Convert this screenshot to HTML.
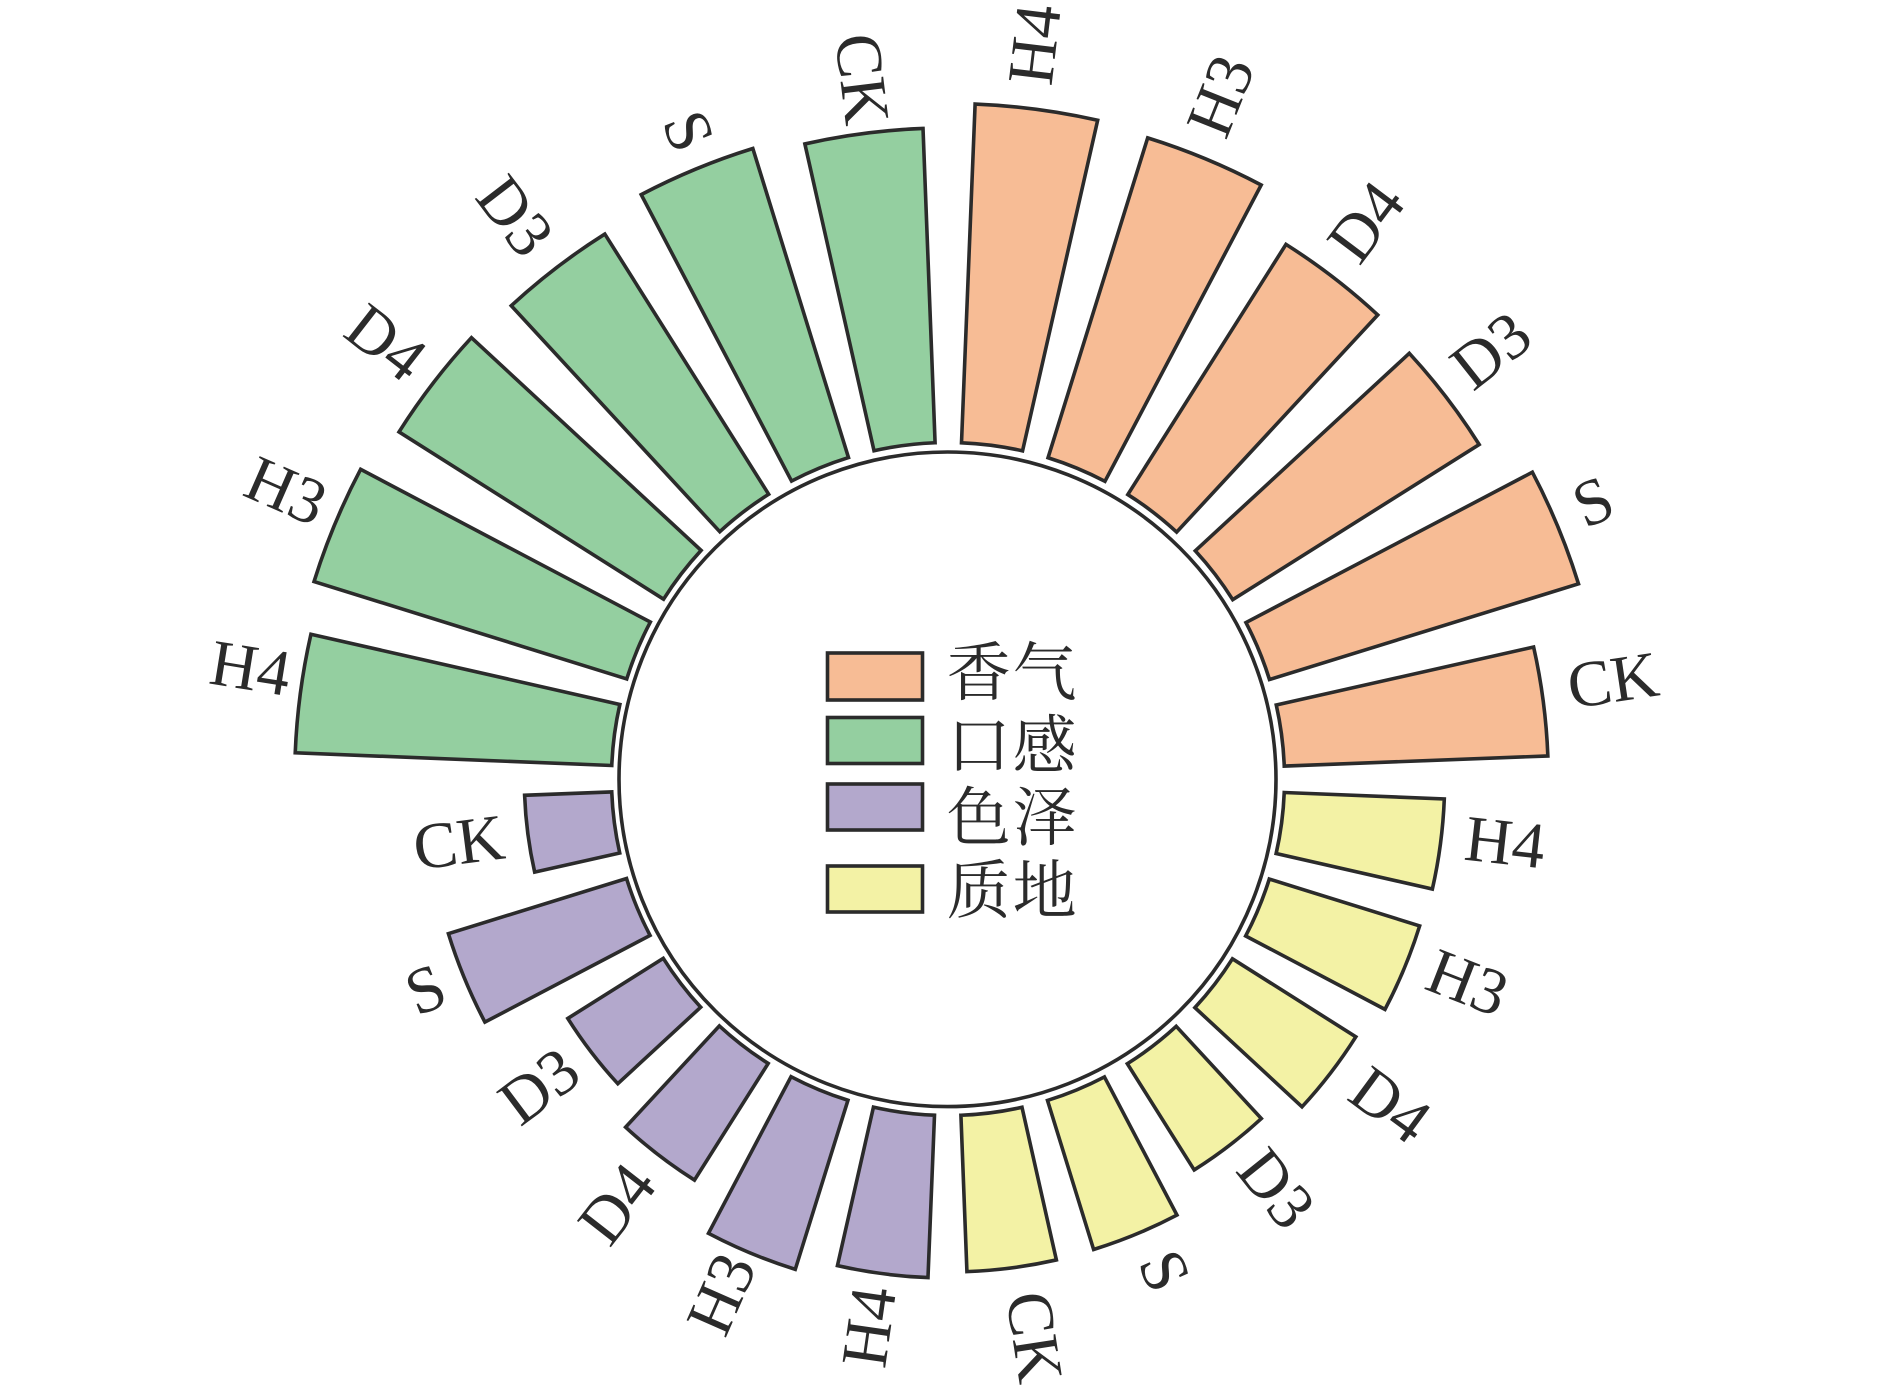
<!DOCTYPE html>
<html><head><meta charset="utf-8"><style>
html,body{margin:0;padding:0;background:#fff}
svg{display:block}
.l{font-family:"Liberation Serif",serif;font-size:65.5px;fill:#2b2b2b}
.c{font-family:"Liberation Serif","Noto Serif CJK SC",serif;font-size:64px;fill:#2b2b2b;letter-spacing:2px}
.o{fill:#F7BC95}.g{fill:#94CFA0}.p{fill:#B3A8CC}.y{fill:#F3F2A5}
.b path,.r{stroke:#2b2b2b;stroke-width:3.6;stroke-linejoin:miter}
</style></head><body>
<svg width="1890" height="1389" viewBox="0 0 1890 1389" xmlns="http://www.w3.org/2000/svg">
<rect width="1890" height="1389" fill="#fff"/>
<ellipse cx="947.5" cy="779.3" rx="328.5" ry="327.3" fill="none" stroke="#2b2b2b" stroke-width="3.6"/>
<g class="b" transform="translate(948 779)">
<path class="o" transform="rotate(0)" d="M13.5,-336.23L27.11,-674.95A675.5 675.5 0 0 1 149.66,-658.71L74.55,-328.14A336.5 336.5 0 0 0 13.5,-336.23Z"/>
<path class="o" transform="rotate(15)" d="M13.5,-336.23L26.95,-670.96A671.5 671.5 0 0 1 148.77,-654.81L74.55,-328.14A336.5 336.5 0 0 0 13.5,-336.23Z"/>
<path class="o" transform="rotate(30)" d="M13.5,-336.23L25.38,-631.99A632.5 632.5 0 0 1 140.13,-616.78L74.55,-328.14A336.5 336.5 0 0 0 13.5,-336.23Z"/>
<path class="o" transform="rotate(45)" d="M13.5,-336.23L25.19,-627.19A627.7 627.7 0 0 1 139.07,-612.10L74.55,-328.14A336.5 336.5 0 0 0 13.5,-336.23Z"/>
<path class="o" transform="rotate(60)" d="M13.5,-336.23L26.49,-659.47A660 660 0 0 1 146.22,-643.60L74.55,-328.14A336.5 336.5 0 0 0 13.5,-336.23Z"/>
<path class="o" transform="rotate(75)" d="M13.5,-336.23L24.09,-599.81A600.3 600.3 0 0 1 133,-585.38L74.55,-328.14A336.5 336.5 0 0 0 13.5,-336.23Z"/>
<path class="y" transform="rotate(90)" d="M13.5,-336.23L19.93,-496.30A496.7 496.7 0 0 1 110.04,-484.36L74.55,-328.14A336.5 336.5 0 0 0 13.5,-336.23Z"/>
<path class="y" transform="rotate(105)" d="M13.5,-336.23L19.82,-493.60A494 494 0 0 1 109.45,-481.72L74.55,-328.14A336.5 336.5 0 0 0 13.5,-336.23Z"/>
<path class="y" transform="rotate(120)" d="M13.5,-336.23L19.36,-482.11A482.5 482.5 0 0 1 106.90,-470.51L74.55,-328.14A336.5 336.5 0 0 0 13.5,-336.23Z"/>
<path class="y" transform="rotate(135)" d="M13.5,-336.23L18.54,-461.63A462 462 0 0 1 102.36,-450.52L74.55,-328.14A336.5 336.5 0 0 0 13.5,-336.23Z"/>
<path class="y" transform="rotate(150)" d="M13.5,-336.23L19.76,-492.10A492.5 492.5 0 0 1 109.11,-480.26L74.55,-328.14A336.5 336.5 0 0 0 13.5,-336.23Z"/>
<path class="y" transform="rotate(165)" d="M13.5,-336.23L19.78,-492.60A493 493 0 0 1 109.22,-480.75L74.55,-328.14A336.5 336.5 0 0 0 13.5,-336.23Z"/>
<path class="p" transform="rotate(180)" d="M13.5,-336.23L20.02,-498.60A499 499 0 0 1 110.55,-486.60L74.55,-328.14A336.5 336.5 0 0 0 13.5,-336.23Z"/>
<path class="p" transform="rotate(195)" d="M13.5,-336.23L20.61,-513.18A513.6 513.6 0 0 1 113.79,-500.84L74.55,-328.14A336.5 336.5 0 0 0 13.5,-336.23Z"/>
<path class="p" transform="rotate(210)" d="M13.5,-336.23L19.04,-474.12A474.5 474.5 0 0 1 105.13,-462.71L74.55,-328.14A336.5 336.5 0 0 0 13.5,-336.23Z"/>
<path class="p" transform="rotate(225)" d="M13.5,-336.23L18.03,-448.94A449.3 449.3 0 0 1 99.54,-438.14L74.55,-328.14A336.5 336.5 0 0 0 13.5,-336.23Z"/>
<path class="p" transform="rotate(240)" d="M13.5,-336.23L20.99,-522.58A523 523 0 0 1 115.87,-510L74.55,-328.14A336.5 336.5 0 0 0 13.5,-336.23Z"/>
<path class="p" transform="rotate(255)" d="M13.5,-336.23L17,-423.36A423.7 423.7 0 0 1 93.87,-413.17L74.55,-328.14A336.5 336.5 0 0 0 13.5,-336.23Z"/>
<path class="g" transform="rotate(270)" d="M13.5,-336.23L26.22,-652.77A653.3 653.3 0 0 1 144.74,-637.07L74.55,-328.14A336.5 336.5 0 0 0 13.5,-336.23Z"/>
<path class="g" transform="rotate(285)" d="M13.5,-336.23L26.65,-663.46A664 664 0 0 1 147.11,-647.50L74.55,-328.14A336.5 336.5 0 0 0 13.5,-336.23Z"/>
<path class="g" transform="rotate(300)" d="M13.5,-336.23L26.06,-648.97A649.5 649.5 0 0 1 143.90,-633.36L74.55,-328.14A336.5 336.5 0 0 0 13.5,-336.23Z"/>
<path class="g" transform="rotate(315)" d="M13.5,-336.23L25.84,-643.48A644 644 0 0 1 142.68,-628L74.55,-328.14A336.5 336.5 0 0 0 13.5,-336.23Z"/>
<path class="g" transform="rotate(330)" d="M13.5,-336.23L26.49,-659.47A660 660 0 0 1 146.22,-643.60L74.55,-328.14A336.5 336.5 0 0 0 13.5,-336.23Z"/>
<path class="g" transform="rotate(345)" d="M13.5,-336.23L26.12,-650.47A651 651 0 0 1 144.23,-634.82L74.55,-328.14A336.5 336.5 0 0 0 13.5,-336.23Z"/>
</g>
<g transform="translate(947.5 780.5)">
<text class="l" y="21" transform="rotate(6.8) translate(0 -701) rotate(-90)">H4</text>
<text class="l" y="21" transform="rotate(21.8) translate(0 -697) rotate(-90)">H3</text>
<text class="l" y="21" transform="rotate(36.9) translate(0 -658) rotate(-90)">D4</text>
<text class="l" y="21" transform="rotate(51.7) translate(0 -653) rotate(-90)">D3</text>
<text class="l" y="21" transform="rotate(66.7) translate(0 -685) rotate(-90)">S</text>
<text class="l" y="21" transform="rotate(81.5) translate(0 -627.5) rotate(-90)">CK</text>
<text class="l" y="21" transform="rotate(96.4) translate(0 -521) rotate(-90)">H4</text>
<text class="l" y="21" transform="rotate(111.3) translate(0 -518) rotate(-90)">H3</text>
<text class="l" y="21" transform="rotate(126.3) translate(0 -509) rotate(-90)">D4</text>
<text class="l" y="21" transform="rotate(141.2) translate(0 -484) rotate(-90)">D3</text>
<text class="l" y="21" transform="rotate(156.2) translate(0 -518) rotate(-90)">S</text>
<text class="l" y="21" transform="rotate(171.2) translate(0 -518) rotate(-90)">CK</text>
<text class="l" y="21" transform="rotate(188.1) translate(0 -512) rotate(-270)" text-anchor="end">H4</text>
<text class="l" y="21" transform="rotate(203.7) translate(0 -521) rotate(-270)" text-anchor="end">H3</text>
<text class="l" y="21" transform="rotate(217.9) translate(0 -497) rotate(-270)" text-anchor="end">D4</text>
<text class="l" y="21" transform="rotate(233.1) translate(0 -470) rotate(-270)" text-anchor="end">D3</text>
<text class="l" y="21" transform="rotate(248.1) translate(0 -544) rotate(-270)" text-anchor="end">S</text>
<text class="l" y="21" transform="rotate(262.7) translate(0 -447) rotate(-270)" text-anchor="end">CK</text>
<text class="l" y="21" transform="rotate(279.1) translate(0 -666) rotate(-270)" text-anchor="end">H4</text>
<text class="l" y="21" transform="rotate(293.6) translate(0 -682) rotate(-270)" text-anchor="end">H3</text>
<text class="l" y="21" transform="rotate(307.9) translate(0 -672) rotate(-270)" text-anchor="end">D4</text>
<text class="l" y="21" transform="rotate(322.5) translate(0 -671) rotate(-270)" text-anchor="end">D3</text>
<text class="l" y="21" transform="rotate(338.2) translate(0 -681) rotate(-270)" text-anchor="end">S</text>
<text class="l" y="21" transform="rotate(353) translate(0 -661) rotate(-270)" text-anchor="end">CK</text>
</g>
<rect class="r o" x="827.5" y="653" width="95" height="47"/>
<rect class="r g" x="827.5" y="717.5" width="95" height="46"/>
<rect class="r p" x="827.5" y="784" width="95" height="46"/>
<rect class="r y" x="827.5" y="866" width="95" height="46"/>
<text class="c" x="946.7" y="695">香气</text>
<text class="c" x="946.7" y="768">口感</text>
<text class="c" x="946.7" y="840">色泽</text>
<text class="c" x="946.7" y="913">质地</text>
</svg>
</body></html>
